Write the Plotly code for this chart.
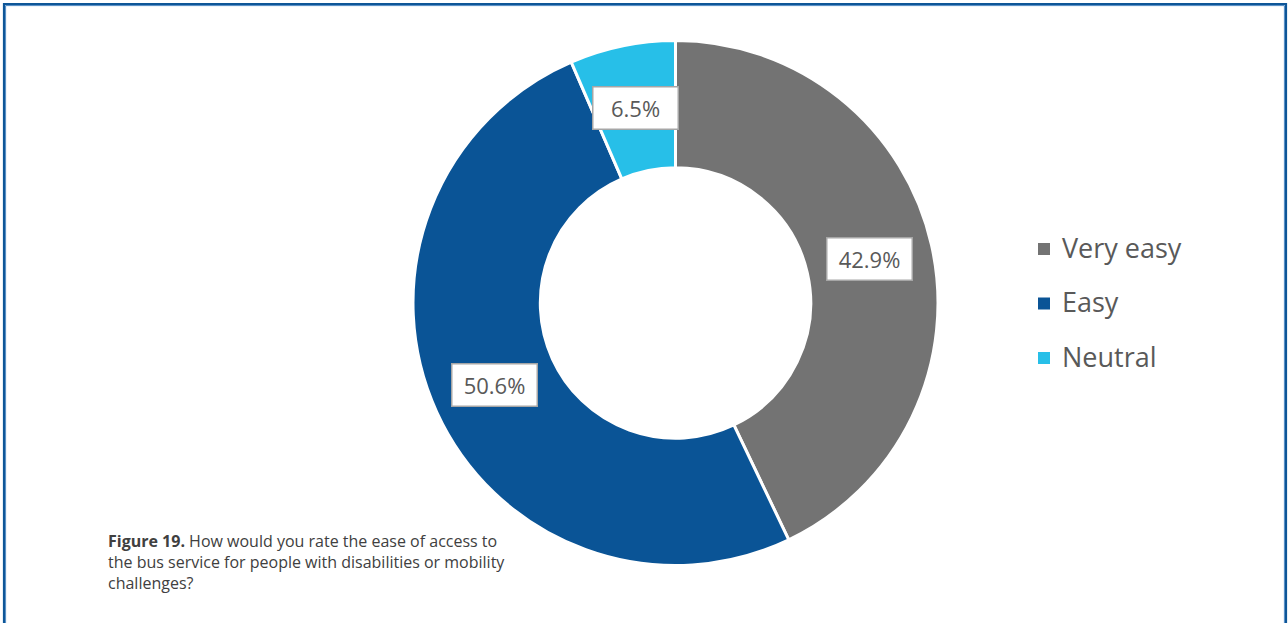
import math
import plotly.graph_objects as go

# Survey responses: ease of bus access for people with disabilities
labels = ["Very easy", "Easy", "Neutral"]
values = [42.9, 50.6, 6.5]
colors = ["#737373", "#0a5496", "#27bfe8"]
caption_lines = [
    "<b>Figure 19.</b> How would you rate the ease of access to",
    "the bus service for people with disabilities or mobility",
    "challenges?",
]

W, H = 1288, 623
FONT = "Open Sans"
TEXT_GREY = "#595959"

# Donut geometry in pixels
cx, cy, r_out, hole = 675.5, 303.0, 262.5, 0.515
r_mid = r_out * (1 + hole) / 2


def px(x):
    return x / W


def py(y):
    return 1 - y / H


fig = go.Figure(
    go.Pie(
        labels=labels,
        values=values,
        marker=dict(colors=colors, line=dict(color="white", width=3)),
        hole=hole,
        sort=False,
        direction="clockwise",
        rotation=0,
        textinfo="none",
        hoverinfo="label+percent",
        showlegend=False,
        domain=dict(x=[px(cx - r_out), px(cx + r_out)],
                    y=[py(cy + r_out), py(cy - r_out)]),
    )
)

annotations = []
shapes = []

# Boxed percentage labels at the middle of each ring segment
total = sum(values)
cum = 0.0
for v in values:
    theta = 2 * math.pi * (cum + v / 2) / total
    cum += v
    x = cx + r_mid * math.sin(theta)
    y = cy - r_mid * math.cos(theta)
    annotations.append(dict(
        x=px(x), y=py(y), xref="paper", yref="paper",
        text=f"{v:.1f}%", showarrow=False,
        font=dict(family=FONT, size=22, color=TEXT_GREY),
        bgcolor="white", bordercolor="#a6a6a6", borderwidth=1.5,
        borderpad=5, width=74, height=31, align="center",
        xanchor="center", yanchor="middle",
    ))

# Legend: coloured squares with category names
leg_x, leg_y0, leg_dy, sq = 1044, 249, 54.5, 12
for i, (lab, col) in enumerate(zip(labels, colors)):
    yc = leg_y0 + i * leg_dy
    shapes.append(dict(
        type="rect", xref="paper", yref="paper",
        x0=px(leg_x - sq / 2), x1=px(leg_x + sq / 2),
        y0=py(yc + sq / 2), y1=py(yc - sq / 2),
        fillcolor=col, line=dict(width=0),
    ))
    annotations.append(dict(
        x=px(leg_x + 16), y=py(yc - 2), xref="paper", yref="paper",
        text=lab, showarrow=False, xanchor="left", yanchor="middle",
        font=dict(family=FONT, size=27, color=TEXT_GREY),
    ))

# Figure caption
annotations.append(dict(
    x=px(106), y=py(528), xref="paper", yref="paper",
    text="<br>".join(caption_lines), showarrow=False,
    xanchor="left", yanchor="top", align="left",
    font=dict(family=FONT, size=16, color="#404040"),
))

# Page frame
shapes.append(dict(type="rect", xref="paper", yref="paper",
                   x0=px(4), x1=px(1286), y0=py(640), y1=py(4),
                   line=dict(color="#0e5698", width=2.2)))
shapes.append(dict(type="rect", xref="paper", yref="paper",
                   x0=px(5.6), x1=px(1284.4), y0=py(640), y1=py(5.6),
                   line=dict(color="#4a86c2", width=1)))

fig.update_layout(
    width=W, height=H,
    margin=dict(l=0, r=0, t=0, b=0),
    paper_bgcolor="white", plot_bgcolor="white",
    annotations=annotations, shapes=shapes,
    font=dict(family=FONT),
)

fig.write_html("out.html")
